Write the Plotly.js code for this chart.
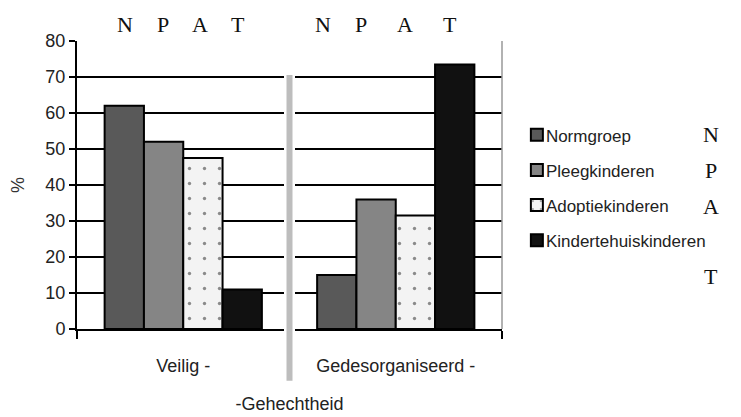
<!DOCTYPE html>
<html>
<head>
<meta charset="utf-8">
<script src="https://cdn.plot.ly/plotly-3.0.1.min.js"></script>
<style>
html,body{margin:0;padding:0;background:#fff;}
#chart{width:741px;height:417px;}
#chart .legendtext{transform:translateX(-11px);}
</style>
</head>
<body>
<div id="chart"></div>
<script>
var categories = ["Veilig -", "Gedesorganiseerd -"];
var seriesNames = ["Normgroep", "Pleegkinderen", "Adoptiekinderen", "Kindertehuiskinderen"];
var normgroep = [62, 15];
var pleegkinderen = [52, 36];
var adoptiekinderen = [47.5, 31.5];
var kindertehuiskinderen = [11, 73.5];
var yTicks = [0, 10, 20, 30, 40, 50, 60, 70, 80];
var gridTicks = [10, 20, 30, 40, 50, 60, 70];
var letters = ["N", "P", "A", "T"];

var colors = ["#595959", "#858585", "#f3f3f3", "#111111"];
var values = [normgroep, pleegkinderen, adoptiekinderen, kindertehuiskinderen];

var traces = values.map(function (v, i) {
  var marker = {color: colors[i], line: {color: "#000", width: 2}};
  if (i === 2) {
    marker.pattern = {shape: ".", fgcolor: "#222", bgcolor: "#f3f3f3", size: 15, solidity: 0.04, fillmode: "overlay"};
  }
  return {type: "bar", x: categories, y: v, name: seriesNames[i], legendgroup: "g" + i, marker: marker};
});

// invisible trace on an overlay axis carrying the gridlines
traces.push({type: "scatter", x: categories, y: [null, null], yaxis: "y2", showlegend: false, hoverinfo: "skip"});

var serif = "Liberation Serif, Times New Roman, serif";
var sans = "Liberation Sans, Arial, sans-serif";

var annotations = [];
var topX = [0.113, 0.202, 0.289, 0.379, 0.579, 0.668, 0.772, 0.878];
topX.forEach(function (x, k) {
  annotations.push({xref: "paper", yref: "paper", x: x, y: 1.056, xanchor: "center", yanchor: "middle",
    text: letters[k % 4], showarrow: false, font: {family: serif, size: 22, color: "#111"}});
});
var legY = [0.674, 0.552, 0.424, 0.181];
legY.forEach(function (y, k) {
  annotations.push({xref: "paper", yref: "paper", x: 1.492, y: y, xanchor: "center", yanchor: "middle",
    text: letters[k], showarrow: false, font: {family: serif, size: 22, color: "#111"}});
});

var layout = {
  width: 741, height: 417,
  margin: {l: 77, r: 239, t: 41, b: 88},
  paper_bgcolor: "#fff", plot_bgcolor: "#fff",
  barmode: "group", bargap: 0.26, bargroupgap: 0,
  font: {family: sans, color: "#222"},
  xaxis: {
    type: "category", range: [-0.5, 1.5], showgrid: false,
    showline: true, linecolor: "#000", linewidth: 2,
    ticks: "outside", tickson: "boundaries", ticklen: 8, tickwidth: 2, tickcolor: "#000",
    ticklabelstandoff: 19,
    tickfont: {family: sans, size: 18, color: "#222"},
    title: {text: "-Gehechtheid", font: {family: sans, size: 18, color: "#222"}, standoff: 23}
  },
  yaxis: {
    range: [0, 80], tickvals: yTicks, showgrid: false,
    showline: true, linecolor: "#000", linewidth: 2,
    ticks: "outside", ticklen: 6, tickwidth: 2, tickcolor: "#000",
    tickfont: {family: sans, size: 18, color: "#222"},
    zeroline: false,
    title: {text: "%", font: {family: sans, size: 18, color: "#333"}, standoff: 16}
  },
  yaxis2: {
    overlaying: "y", range: [0, 80], tickvals: gridTicks, showgrid: true,
    gridcolor: "#000", gridwidth: 2, showticklabels: false, ticks: "", zeroline: false, showline: false
  },
  legend: {
    x: 1.035, y: 0.735, xanchor: "left", yanchor: "top",
    font: {family: sans, size: 17, color: "#222"},
    traceorder: "grouped", tracegroupgap: 10, bgcolor: "rgba(0,0,0,0)"
  },
  shapes: [
    {type: "line", xref: "paper", yref: "paper", x0: 0.5, x1: 0.5, y0: -0.18, y1: 0.882,
      line: {color: "#fff", width: 11}, layer: "above"},
    {type: "line", xref: "paper", yref: "paper", x0: 0.5, x1: 0.5, y0: -0.18, y1: 0.882,
      line: {color: "#bdbdbd", width: 6}, layer: "above"},
    {type: "line", xref: "paper", yref: "paper", x0: 1, x1: 1, y0: 0, y1: 1,
      line: {color: "#999", width: 1.5}, layer: "above"}
  ],
  annotations: annotations,
  showlegend: true
};

Plotly.newPlot("chart", traces, layout, {displayModeBar: false, staticPlot: true});
</script>
</body>
</html>
